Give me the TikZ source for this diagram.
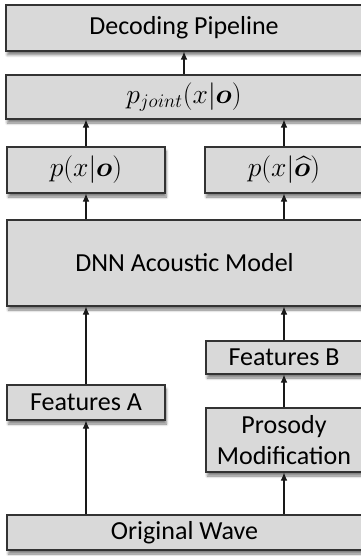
\documentclass[tikz,border=0pt]{standalone}
\usepackage{amsmath,bm}
\usepackage{fontspec}
\setmainfont{Carlito}
\usetikzlibrary{arrows.meta,shadows.blur}

\tikzset{
  blk/.style={draw=black!80, line width=0.8pt, fill=black!15, align=center,
    inner sep=0pt, font=\fontsize{19.5}{23}\selectfont,
    blur shadow={shadow xshift=1pt, shadow yshift=-3pt, shadow blur steps=6, shadow opacity=50}},
  mathblk/.style={blk, font=\fontsize{22}{26}\selectfont},
  link/.style={-{Latex[length=6pt,width=5pt]}, line width=0.8pt, black!90}
}

\begin{document}
\begin{tikzpicture}[x=0.75pt, y=-0.75pt]
	\useasboundingbox (0,0) rectangle (360,556);

	% Nodes
	\node [blk, minimum width=356*0.75pt, minimum height=46*0.75pt]     (dec)   at (184,28)    {Decoding Pipeline};
	\node [mathblk, minimum width=356*0.75pt, minimum height=44*0.75pt] (joint) at (184,97)    {$p_{joint}(x|\bm{o})$};
	\node [mathblk, minimum width=158*0.75pt, minimum height=46*0.75pt] (po)    at (86,170)    {$p(x|\bm{o})$};
	\node [mathblk, minimum width=158*0.75pt, minimum height=46*0.75pt] (poh)   at (284,170)   {$p(x|\widehat{\bm{o}})$};
	\node [blk, minimum width=355*0.75pt, minimum height=86*0.75pt]     (dnn)   at (184.5,263) {DNN Acoustic Model};
	\node [blk, minimum width=156*0.75pt, minimum height=33*0.75pt]     (fb)    at (284,357.5) {Features B};
	\node [blk, minimum width=158*0.75pt, minimum height=35*0.75pt]     (fa)    at (86,402.5)  {Features A};
	\node [blk, minimum width=156*0.75pt, minimum height=64*0.75pt]     (pros)  at (284,440)   {Prosody\\Modification};
	\node [blk, minimum width=355*0.75pt, minimum height=35*0.75pt]     (wave)  at (184.5,532.5) {Original Wave};

	% Paths
	\path [link] (fa |- wave.north)   edge (fa)
	             (fa)                 edge (fa |- dnn.south)
	             (pros |- wave.north) edge (pros)
	             (pros)               edge (fb)
	             (fb)                 edge (fb |- dnn.south)
	             (po |- dnn.north)    edge (po)
	             (poh |- dnn.north)   edge (poh)
	             (po)                 edge (po |- joint.south)
	             (poh)                edge (poh |- joint.south)
	             (joint)              edge (dec);
\end{tikzpicture}
\end{document}
